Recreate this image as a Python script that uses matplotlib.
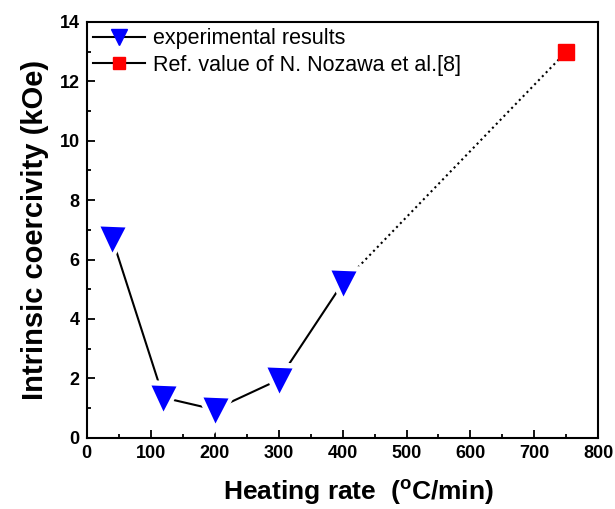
import matplotlib
matplotlib.use("Agg")
import matplotlib.pyplot as plt
from matplotlib.ticker import MultipleLocator

plt.rcParams["font.family"] = ["Liberation Sans", "DejaVu Sans"]

# Data
heating_rate = [40, 120, 200, 300, 400]
coercivity = [6.7, 1.35, 0.95, 1.95, 5.2]
ref_rate = [750]
ref_coercivity = [13.0]

fig = plt.figure(figsize=(6.15, 5.09), dpi=100)
ax = fig.add_axes([0.141, 0.14, 0.832, 0.817])

# dotted extrapolation from last measurement to reference value
ax.plot(
    [heating_rate[-1], ref_rate[0]],
    [coercivity[-1], ref_coercivity[0]],
    linestyle=":",
    color="black",
    linewidth=1.5,
    zorder=1,
)
ax.plot(heating_rate, coercivity, color="black", linewidth=1.5, zorder=1)
# white halo so the connecting line stops short of each marker
ax.plot(
    heating_rate + ref_rate,
    coercivity + ref_coercivity,
    linestyle="none",
    marker="v",
    markersize=18,
    markerfacecolor="white",
    markeredgecolor="white",
    markeredgewidth=7,
    zorder=2,
)
ax.plot(
    heating_rate,
    coercivity,
    linestyle="none",
    marker="v",
    markersize=18,
    markerfacecolor="blue",
    markeredgecolor="none",
    zorder=3,
)
ax.plot(
    ref_rate,
    ref_coercivity,
    linestyle="none",
    marker="s",
    markersize=12,
    markerfacecolor="red",
    markeredgecolor="red",
    zorder=3,
)

ax.set_xlim(0, 800)
ax.set_ylim(0, 14)
ax.xaxis.set_major_locator(MultipleLocator(100))
ax.xaxis.set_minor_locator(MultipleLocator(50))
ax.yaxis.set_major_locator(MultipleLocator(2))
ax.yaxis.set_minor_locator(MultipleLocator(1))
ax.tick_params(which="both", direction="in", width=1.3)
ax.tick_params(which="major", length=6, labelsize=13, pad=5)
ax.tick_params(which="minor", length=3)
for label in ax.get_xticklabels() + ax.get_yticklabels():
    label.set_fontweight("bold")
for spine in ax.spines.values():
    spine.set_linewidth(1.5)

ax.set_xlabel("Heating rate  ($\\mathregular{^o}$C/min)", fontsize=19, fontweight="bold")
ax.xaxis.set_label_coords(0.531, -0.098)
ax.set_ylabel("Intrinsic coercivity (kOe)", fontsize=21, fontweight="bold", labelpad=8)

# legend: line through marker like the original
handles = [
    plt.Line2D([], [], color="black", linewidth=1.5, marker="v", markersize=12,
               markerfacecolor="blue", markeredgecolor="blue"),
    plt.Line2D([], [], color="black", linewidth=1.5, marker="s", markersize=9,
               markerfacecolor="red", markeredgecolor="red"),
]
labels = ["experimental results", "Ref. value of N. Nozawa et al.[8]"]
ax.legend(
    handles,
    labels,
    loc="upper left",
    frameon=False,
    fontsize=15.5,
    handlelength=2.4,
    handletextpad=0.37,
    borderpad=0.2,
    borderaxespad=0.1,
    labelspacing=0.25,
)

fig.savefig("out.png", dpi=100)
